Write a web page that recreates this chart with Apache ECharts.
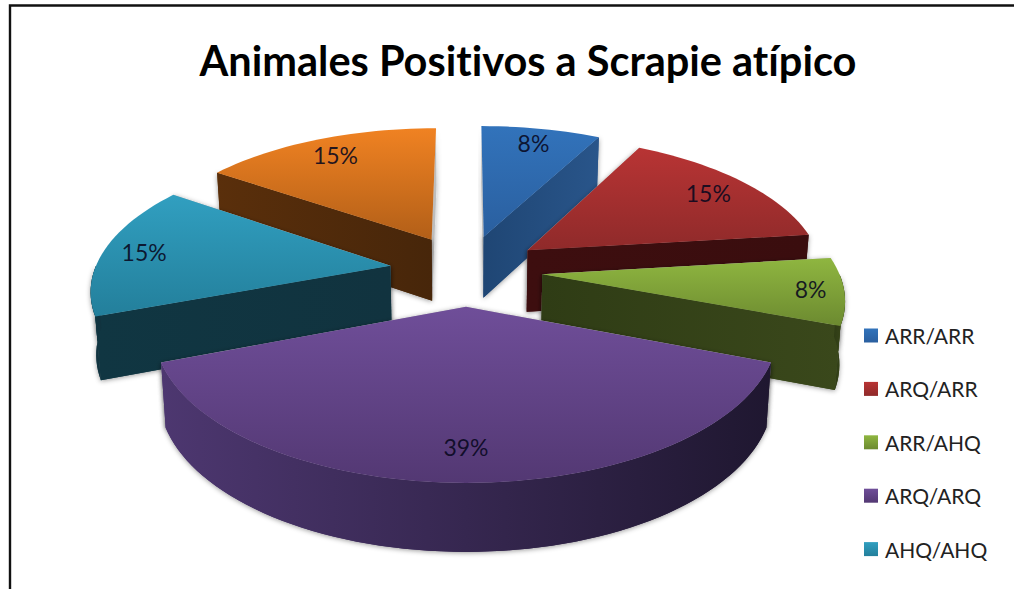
<!DOCTYPE html>
<html>
<head>
<meta charset="utf-8">
<style>
  html, body { margin: 0; padding: 0; background: #fff; overflow: hidden; }
  #chart { width: 1014px; height: 589px; }
  #chart text { font-variant-ligatures: none; }
</style>
<script src="https://cdn.jsdelivr.net/npm/echarts@6/dist/echarts.min.js"></script>
</head>
<body>
<div id="chart"></div>
<script>
// datos
const categories = ['ARR/ARR', 'ARQ/ARR', 'ARR/AHQ', 'ARQ/ARQ', 'AHQ/AHQ', 'Otro'];
const legendNames = ['ARR/ARR', 'ARQ/ARR', 'ARR/AHQ', 'ARQ/ARQ', 'AHQ/AHQ'];
const percents = [7.7, 15.4, 7.7, 38.5, 15.4, 15.4];
const titleText = 'Animales Positivos a Scrapie atípico';

// colores de cada porcion: cara superior (claro, oscuro) y pared
const topColors = [
  ['#3273bb', '#2a5f9f'], ['#b83434', '#8f2a2a'], ['#8fb640', '#6c8a30'],
  ['#6f4e99', '#533873'], ['#319fc0', '#237f9b'], ['#f08222', '#b25f18']
];
const wallColors = [
  ['#1f4674', '#29558a'], ['#3d0e0f', '#3a0d0e'], ['#2f3c15', '#3a481b'],
  ['#4d3770', '#1f1730'], ['#103642', '#11333f'], ['#5a2f0b', '#47260a']
];
const labelReach = [0.85, 0.83, 0.89, 0.82, 0.86, 0.83];

// proyeccion del disco
const cx = 466, cy = 270;
const radius = 290, explode = 75, perspective = 1911;
const flatten = 0.472, widen = 1.02, thickness = 62;

const total = percents.reduce((a, b) => a + b, 0);
const rad = d => d * Math.PI / 180;
let acc = 0;
const slices = percents.map(v => {
  const start = acc / total * 360;
  acc += v;
  return { start, end: acc / total * 360, mid: (start + v / total * 180) };
});
// las porciones del fondo se pintan primero
const order = slices.map((s, i) => [Math.cos(rad(s.mid)), i]).sort((a, b) => b[0] - a[0]).map(p => p[1]);

function project(X, Y, low) {
  const s = 1 / (1 - Y / perspective);
  const x = cx + widen * X * s;
  const y = cy + flatten * Y * s;
  if (!low) return [x, y];
  return [cx + (x - cx) * 0.985, y + thickness * Math.sqrt(s)];
}
function apexOf(s) {
  return [explode * Math.sin(rad(s.mid)), -explode * Math.cos(rad(s.mid))];
}
function rimPoint(s, ang, r) {
  const a = apexOf(s);
  return [a[0] + r * Math.sin(rad(ang)), a[1] - r * Math.cos(rad(ang))];
}
function rim(s, from, to) {
  const pts = [];
  const n = Math.max(2, Math.ceil((to - from) / 2));
  for (let k = 0; k <= n; k++) pts.push(rimPoint(s, from + (to - from) * k / n, radius));
  return pts;
}
function gradient(c, horizontal) {
  return new echarts.graphic.LinearGradient(0, 0, horizontal ? 1 : 0, horizontal ? 0 : 1, [
    { offset: 0, color: c[0] }, { offset: 1, color: c[1] }
  ]);
}
function wallOf(edge, fill, shadow) {
  const up = edge.map(p => project(p[0], p[1], false));
  const down = edge.map(p => project(p[0], p[1], true)).reverse();
  const style = shadow
    ? { fill, shadowBlur: 5, shadowColor: 'rgba(0,0,0,0.4)', shadowOffsetY: 1 }
    : { fill };
  return { type: 'polygon', shape: { points: up.concat(down) }, style };
}

function drawSlice(i) {
  const s = slices[i];
  const apex = apexOf(s);
  const first = rimPoint(s, s.start, radius), last = rimPoint(s, s.end, radius);
  const startFaces = -Math.cos(rad(s.start - 90)) > 0.01;
  const endFaces = -Math.cos(rad(s.end + 90)) > 0.01;
  const face = gradient(wallColors[i], true);
  const children = [];
  // paredes traseras en gris: solo asoma la sombra
  if (!startFaces) children.push(wallOf([apex, first], '#bdbdbd', true));
  if (!endFaces) children.push(wallOf([apex, last], '#bdbdbd', true));
  const front = [];
  if (startFaces) front.push([apex, first]);
  if (endFaces) front.push([apex, last]);
  const from = Math.max(s.start, 90), to = Math.min(s.end, 270);
  if (to > from) front.push(rim(s, from, to));
  // primero con sombra y luego encima sin ella, para que no queden costuras
  front.forEach(edge => children.push(wallOf(edge, face, true)));
  front.forEach(edge => children.push(wallOf(edge, face, false)));
  const topPts = [apex].concat(rim(s, s.start, s.end)).map(p => project(p[0], p[1], false));
  children.push({ type: 'polygon', shape: { points: topPts }, style: { fill: gradient(topColors[i], false) } });
  const lp = project.apply(null, rimPoint(s, s.mid, radius * labelReach[i]));
  children.push({
    type: 'text', x: lp[0], y: lp[1],
    style: {
      text: Math.round(percents[i]) + '%', align: 'center', verticalAlign: 'middle',
      font: '23px Lato, "Open Sans", sans-serif', fill: 'rgba(8,8,30,0.88)'
    }
  });
  return { type: 'group', children };
}

const chart = echarts.init(document.getElementById('chart'), null, { renderer: 'svg' });
chart.setOption({
  animation: false,
  backgroundColor: '#fff',
  title: {
    text: titleText,
    left: 528,
    textAlign: 'center',
    top: 39,
    padding: 0,
    textStyle: { fontFamily: 'Lato, sans-serif', fontWeight: 'bold', fontSize: 41.5, color: '#000' }
  },
  legend: {
    orient: 'vertical',
    left: 864,
    top: 325,
    itemWidth: 14,
    itemHeight: 14,
    itemGap: 32.4,
    icon: 'rect',
    padding: 0,
    selectedMode: false,
    textStyle: { fontFamily: 'Lato, sans-serif', fontSize: 21, color: '#222', padding: [0, 0, 0, 2] },
    data: legendNames.map(name => {
      const i = categories.indexOf(name);
      return { name, itemStyle: { color: gradient(topColors[i], false), borderWidth: 0 } };
    })
  },
  graphic: [{
    type: 'rect',
    silent: true,
    shape: { x: 10, y: 5.5, width: 1100, height: 700 },
    style: { fill: 'none', stroke: '#111', lineWidth: 2.4 }
  }],
  series: categories.map((name, i) => ({
    type: 'custom',
    name,
    coordinateSystem: 'none',
    silent: true,
    z: 2 + order.indexOf(i),
    data: [percents[i]],
    renderItem: () => drawSlice(i)
  }))
});
</script>
</body>
</html>
